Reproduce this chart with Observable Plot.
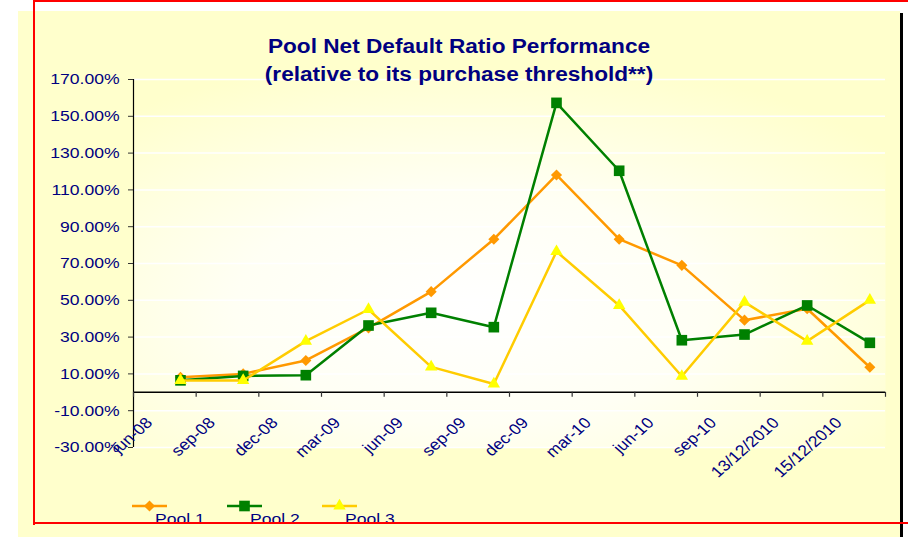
<!DOCTYPE html>
<html><head><meta charset="utf-8">
<script src="https://cdn.jsdelivr.net/npm/d3@7"></script>
<script src="https://cdn.jsdelivr.net/npm/@observablehq/plot@0.6"></script>
<style>
html,body{margin:0;padding:0;background:#fff;}
#wrap{position:relative;width:908px;height:537px;overflow:hidden;background:#fff;font-family:"Liberation Sans",Arial,sans-serif;}
.abs{position:absolute;}
#title{left:459px;top:32px;transform:translateX(-50%) scaleX(1.16);text-align:center;white-space:nowrap;line-height:28.4px;font-weight:bold;font-size:19.5px;color:#000080;}
.red{position:absolute;background:#FF0000;}
</style></head><body>
<div id="wrap">
  <div class="abs" style="left:18px;top:11px;width:882px;height:526px;background:#FFFFCC"></div>
  <div class="abs" style="left:900px;top:13px;width:3px;height:524px;background:#000"></div>
  <div id="chart" class="abs" style="left:0;top:0"></div>
  <div id="title" class="abs">Pool Net Default Ratio Performance<br>(relative to its purchase threshold**)</div>
  <svg id="legend" class="abs" width="908" height="537" style="left:0;top:0"></svg>
  <div class="red" style="left:33px;top:0;width:875px;height:2px"></div>
  <div class="red" style="left:33px;top:0;width:2px;height:525px"></div>
  <div class="red" style="left:33px;top:522px;width:875px;height:2px"></div>
</div>
<script>
// ---- data ----
const xLabels = ["jun-08","sep-08","dec-08","mar-09","jun-09","sep-09","dec-09","mar-10","jun-10","sep-10","13/12/2010","15/12/2010"];
const yTicks = [-30,-10,10,30,50,70,90,110,130,150,170];
const seriesNames = ["Pool 1","Pool 2","Pool 3"];
const pool1 = [8.2, 10.0, 17.3, 35.0, 54.7, 83.2, 118.1, 83.2, 69.0, 39.2, 45.4, 13.6];
const pool2 = [6.5, 8.9, 9.3, 36.3, 43.2, 35.4, 157.3, 120.4, 28.3, 31.4, 47.2, 26.9];
const pool3 = [6.4, 6.4, 27.8, 45.0, 13.8, 4.5, 76.5, 47.2, 8.7, 49.0, 27.8, 50.1];

// ---- styling ----
const styles = [
  {line: "#FF9900", fill: "#FF9900", symbol: "diamond2", r: 5},
  {line: "#008000", fill: "#008000", symbol: "square", r: 6},
  {line: "#FFCC00", fill: "#FFFF00", symbol: "triangle", r: 4.6}
];
const pointOffset = 0.75;
const navy = "#000080";

const seriesValues = [pool1, pool2, pool3];
const rows = seriesNames.map((name, s) => seriesValues[s].map((v, i) => ({name, i, v})));

const marks = [
  Plot.frame({fill: "url(#plotBg)", stroke: "none"}),
  Plot.gridY(yTicks, {stroke: "#FFFFFF", strokeOpacity: 1, strokeWidth: 1.5}),
  Plot.ruleX([0], {stroke: "#000", strokeWidth: 1.2}),
  Plot.ruleY([0], {stroke: "#000", strokeWidth: 1.5}),
  Plot.ruleX(d3.range(xLabels.length + 1), {x: d => d, y1: () => 0, y2: () => 0, insetBottom: -5, stroke: "#333", strokeWidth: 1.2}),
  Plot.axisY(yTicks, {tickSize: 5, tickPadding: 9, tickFormat: d => d.toFixed(2) + "%", stroke: "#333", fill: navy, label: null}),
  Plot.text(xLabels, {x: (d, i) => i, y: () => 0, text: d => d, rotate: -45, textAnchor: "end", lineAnchor: "middle", dx: 16, dy: 28, fill: navy})
];
rows.forEach((data, s) => {
  const st = styles[s];
  marks.push(Plot.line(data, {x: d => d.i + pointOffset, y: "v", stroke: st.line, strokeWidth: 2.5, strokeLinejoin: "round"}));
  marks.push(Plot.dot(data, {x: d => d.i + pointOffset, y: "v", symbol: () => st.symbol, r: st.r, fill: st.fill, stroke: "none"}));
});

const chart = Plot.plot({
  width: 908, height: 537,
  marginLeft: 133, marginRight: 23, marginTop: 79, marginBottom: 90,
  x: {domain: [0, xLabels.length], axis: null},
  y: {domain: [-30, 170], axis: null, label: null},
  symbol: {type: "identity"},
  style: {fontFamily: "'Liberation Sans', Arial, sans-serif", fontSize: "15.4px", color: navy, background: "transparent", overflow: "visible"},
  marks
});

// gradient for plot area
const svg = d3.select(chart);
const defs = svg.insert("defs", ":first-child");
const grad = defs.append("radialGradient").attr("id", "plotBg").attr("cx", 0.45).attr("cy", 0.62).attr("r", 0.7);
grad.append("stop").attr("offset", 0).attr("stop-color", "#FFFFFF");
grad.append("stop").attr("offset", 0.45).attr("stop-color", "#FFFFF4");
grad.append("stop").attr("offset", 1).attr("stop-color", "#FFFFCC");

// the reference text is horizontally stretched
function stretch(sel, s) {
  sel.each(function() {
    const t = this.getAttribute("transform");
    if (t && /translate\(/.test(t)) {
      this.setAttribute("transform", t.replace(/(translate\([^)]*\))/, `$1 scale(${s},1)`));
    } else {
      const x = +this.getAttribute("x") || 0, y = +this.getAttribute("y") || 0;
      this.setAttribute("transform", `translate(${x},${y}) scale(${s},1) translate(${-x},${-y})` + (t ? " " + t : ""));
    }
  });
}
stretch(svg.selectAll("text"), 1.14);
document.getElementById("chart").appendChild(chart);

// legend
const lg = d3.select("#legend");
seriesNames.forEach((name, s) => {
  const st = styles[s];
  const lx = 132 + s * 95, ly = 506;
  lg.append("line").attr("x1", lx).attr("x2", lx + 35).attr("y1", ly).attr("y2", ly)
    .attr("stroke", st.line).attr("stroke-width", 2.5);
  const sym = {diamond2: d3.symbolDiamond2, square: d3.symbolSquare, triangle: d3.symbolTriangle}[st.symbol];
  lg.append("path").attr("d", d3.symbol(sym, Math.PI * st.r * st.r)())
    .attr("transform", `translate(${lx + 17.5},${ly})`).attr("fill", st.fill);
  const tx = lx + 23, ty = 524;
  lg.append("text").attr("x", tx).attr("y", ty).attr("fill", navy)
    .attr("font-family", "'Liberation Sans', Arial, sans-serif").attr("font-size", 15.4)
    .attr("transform", `translate(${tx},${ty}) scale(1.14,1) translate(${-tx},${-ty})`)
    .text(name);
});
</script>
</body></html>
